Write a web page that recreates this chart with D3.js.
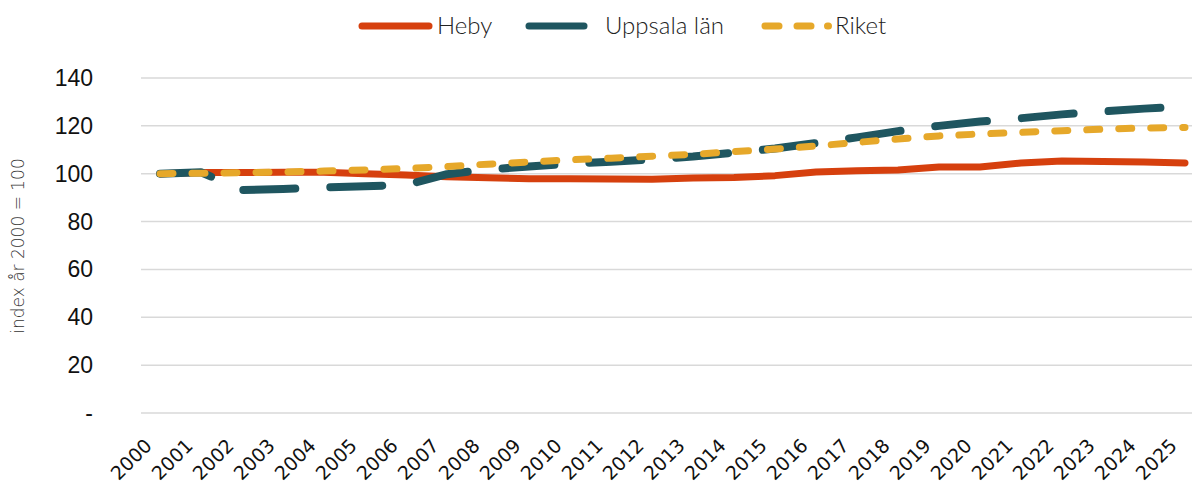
<!DOCTYPE html>
<html>
<head>
<meta charset="utf-8">
<script src="https://cdn.jsdelivr.net/npm/d3@7"></script>
<style>
  body { margin: 0; background: #fff; }
  svg text { font-family: "Liberation Sans", Arial, sans-serif; }
</style>
</head>
<body>
<svg id="chart" width="1192" height="484"></svg>
<script>
var years = d3.range(2000, 2026);

var heby = [100, 100.5, 100.5, 100.6, 100.6, 100.0, 99.5, 98.7, 98.3, 97.9, 97.9, 97.8, 97.7, 98.2,
    98.4, 99.2, 100.7, 101.2, 101.6, 102.8, 102.8, 104.5, 105.3, 105.1, 104.9, 104.5];
var uppsala = [100, 100.6, 93.2, 93.6, 94.3, 94.8, 95.3, 99.8, 101.8, 103.0, 104.2, 105.0, 106.0, 107.2,
    108.8, 110.5, 112.8, 115.2, 117.8, 120.0, 121.8, 123.2, 124.8, 126.0, 127.2, 128.0];
var riket = [100, 100.2, 100.4, 100.7, 101.1, 101.6, 102.2, 103.0, 104.0, 104.9, 105.8, 106.5, 107.3, 108.1,
    109.2, 110.3, 111.6, 113.1, 114.5, 115.8, 116.6, 117.3, 118.0, 118.6, 119.1, 119.3];

var yTicks = [0, 20, 40, 60, 80, 100, 120, 140];

var series = [
    {name: "Heby", values: heby, color: "#d6400e", width: 7, dash: null},
    {name: "Uppsala län", values: uppsala, color: "#1f5660", width: 8, dash: "52,35"},
    {name: "Riket", values: riket, color: "#e6a82a", width: 7, dash: "13,19"}
];

var svg = d3.select("#chart");

var x = d3.scalePoint().domain(years).range([160, 1185]);
var y = d3.scaleLinear().domain([0, 140]).range([413, 78]);

// gridlines
svg.append("g")
    .selectAll("line")
    .data(yTicks)
    .join("line")
    .attr("x1", 141)
    .attr("x2", 1192)
    .attr("y1", function(d){ return y(d); })
    .attr("y2", function(d){ return y(d); })
    .attr("stroke", "#d9d9d9")
    .attr("stroke-width", 1.5);

// y labels
svg.append("g")
    .selectAll("text")
    .data(yTicks)
    .join("text")
    .attr("x", 93)
    .attr("y", function(d){ return y(d) + 8; })
    .attr("text-anchor", "end")
    .attr("font-size", 23)
    .attr("fill", "#111")
    .text(function(d){ return d === 0 ? "-" : d; });

// y title
svg.append("text")
    .attr("transform", "translate(24,246) rotate(-90)")
    .attr("text-anchor", "middle")
    .attr("font-size", 17)
    .attr("font-weight", 200)
    .attr("fill", "#333")
    .style("font-family", "'DejaVu Sans', sans-serif")
    .text("index år 2000 = 100");

// x labels
svg.append("g")
    .selectAll("text")
    .data(years)
    .join("text")
    .attr("transform", function(d){ return "translate(" + (x(d) - 7) + ",447) rotate(-45)"; })
    .attr("text-anchor", "end")
    .attr("font-size", 19)
    .attr("fill", "#111")
    .style("font-family", "'DejaVu Sans', Verdana, sans-serif")
    .text(function(d){ return d; });

var line = d3.line()
    .x(function(d, i){ return x(years[i]); })
    .y(function(d){ return y(d); });

svg.append("g")
    .selectAll("path")
    .data(series)
    .join("path")
    .attr("d", function(s){ return line(s.values); })
    .attr("fill", "none")
    .attr("stroke", function(s){ return s.color; })
    .attr("stroke-width", function(s){ return s.width; })
    .attr("stroke-linecap", "round")
    .attr("stroke-linejoin", "round")
    .attr("stroke-dasharray", function(s){ return s.dash; });

// legend
var legendItems = [
    {s: series[0], segs: [[362, 429]], tx: 437},
    {s: series[1], segs: [[529, 584]], tx: 605},
    {s: series[2], segs: [[765, 779], [797, 811], [827.5, 828.5]], tx: 835}
];
var lg = svg.append("g");
legendItems.forEach(function(it){
    var s = it.s;
    lg.append("path")
        .attr("d", it.segs.map(function(g){ return "M" + g[0] + ",26 L" + g[1] + ",26"; }).join(" "))
        .attr("stroke", s.color)
        .attr("stroke-width", 7)
        .attr("stroke-linecap", "round");
    lg.append("text")
        .attr("x", it.tx)
        .attr("y", 34)
        .attr("font-size", 24)
        .attr("font-weight", 300)
        .attr("fill", "#222")
        .style("font-family", "Lato, 'Open Sans', sans-serif")
        .text(s.name);
});
</script>
</body>
</html>
